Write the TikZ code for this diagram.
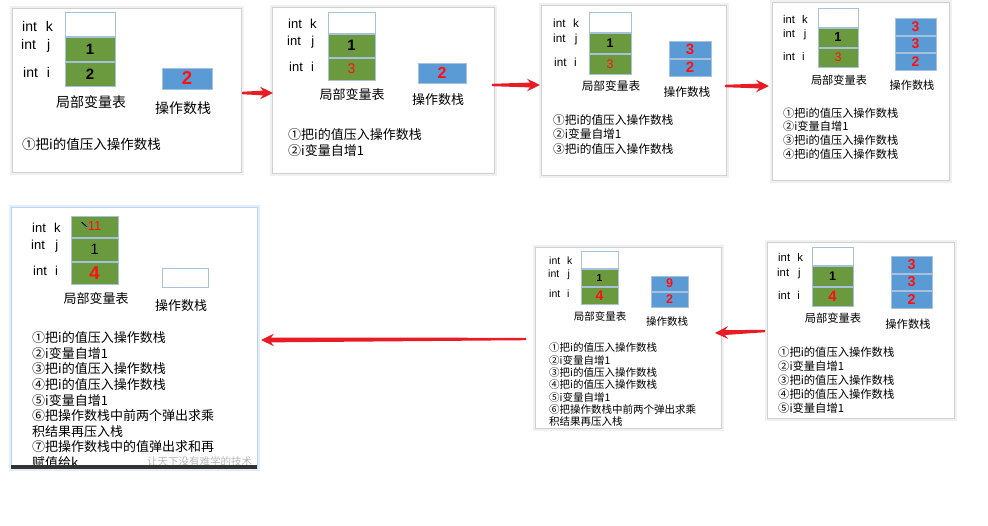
\documentclass[tikz,border=0pt]{standalone}
\usepackage{fontspec}
\setmainfont{Liberation Sans}
\newfontfamily\cjk{Noto Sans CJK SC}
\usetikzlibrary{calc}
\definecolor{gfill}{HTML}{6B9A3E}
\definecolor{cellborder}{HTML}{A7C1DD}
\definecolor{sfill}{HTML}{5B9BD5}
\definecolor{numred}{HTML}{FF1010}
\definecolor{arrowred}{HTML}{E81C25}
\definecolor{selblue}{HTML}{B9D4EF}
\newcommand\fs[1]{\fontsize{#1}{#1}\selectfont}
\newcommand\mkpanel[6]{\node[panelbox,#6,minimum width={#4-#2},minimum height={#5-#3}] (#1) at ({(#2+#4)/2},{(#3+#5)/2}) {};}
\newcommand\mkcell[7]{\node[cellbox,#6,minimum width={#4-#2},minimum height={#5-#3}] (#1) at ({(#2+#4)/2},{(#3+#5)/2}) {#7};}
\newcommand\tarrow[2]{\fill[arrowred] ($(#1)+(0,1.2)$) -- ($(#2)!10pt!(#1)+(0,2.4)$) -- ($(#2)!13pt!(#1)+(0,6.3)$) -- (#2) -- ($(#2)!13pt!(#1)+(0,-6.3)$) -- ($(#2)!10pt!(#1)+(0,-2.4)$) -- ($(#1)+(0,-1.2)$) -- cycle;}
\newcommand\rn[2]{{\fs{#1}\bfseries\color{numred}#2}}
\newcommand\rl[2]{{\fs{#1}\color{numred}#2}}
\newcommand\bn[2]{{\fs{#1}\bfseries #2}}
\newcommand\txA{①把i的值压入操作数栈}
\newcommand\txB{②i变量自增1}
\newcommand\txC{③把i的值压入操作数栈}
\newcommand\txD{④把i的值压入操作数栈}
\newcommand\txE{⑤i变量自增1}
\newcommand\txF{⑥把操作数栈中前两个弹出求乘\\积结果再压入栈}
\newcommand\txG{⑦把操作数栈中的值弹出求和再\\赋值给k}
\tikzset{
  panelbox/.style={draw=black!18,line width=0.6pt,fill=white,preaction={draw=black!6,line width=5pt},inner sep=0pt},
  selpanel/.style={draw=selblue,preaction={draw=selblue!40,line width=5pt}},
  cellbox/.style={draw=cellborder,line width=0.9pt,inner sep=0pt},
  gcell/.style={fill=gfill},
  wcell/.style={fill=white},
  scell/.style={fill=sfill},
  lab/.style={anchor=base west,inner sep=0pt},
  ttl/.style={inner sep=0pt,font=\cjk},
  steps/.style={anchor=north west,inner sep=0pt,align=left}
}
\begin{document}
\begin{tikzpicture}[x=1pt,y=-1pt]
\useasboundingbox (0,0) rectangle (988,525);
\fill[white] (0,0) rectangle (988,525);

% ---------- panel 1
\mkpanel{p1}{12}{8}{241}{172}{}
\node[lab] (p1lk) at (22,31) {\fs{14}int\hspace{0.64em}k};
\node[lab] (p1lj) at (21,49) {\fs{14}int\hspace{0.8em}j};
\node[lab] (p1li) at (23,77) {\fs{14}int\hspace{0.64em}i};
\mkcell{p1k}{65}{12}{115}{36}{wcell}{}
\mkcell{p1j}{65}{37}{115}{61}{gcell}{\bn{15}{1}}
\mkcell{p1i}{65}{62}{115}{86}{gcell}{\bn{15}{2}}
\mkcell{p1s}{162}{68}{212}{89}{scell}{\rn{18.6}{2}}
\node[ttl] (p1t1) at (91,102) {\fs{14}局部变量表};
\node[ttl] (p1t2) at (183,108) {\fs{14}操作数栈};
\node[steps,font={\cjk\fontsize{13.5}{16.5}\selectfont}] (p1st) at (22,138) {\txA};

% ---------- panel 2
\mkpanel{p2}{272}{7}{494}{173}{}
\node[lab] (p2lk) at (288,28.7) {\fs{13}int\hspace{0.64em}k};
\node[lab] (p2lj) at (287,45.7) {\fs{13}int\hspace{0.8em}j};
\node[lab] (p2li) at (289,71.7) {\fs{13}int\hspace{0.64em}i};
\mkcell{p2k}{328}{12}{375}{33}{wcell}{}
\mkcell{p2j}{328}{34}{375}{57}{gcell}{\bn{15}{1}}
\mkcell{p2i}{328}{58}{375}{80}{gcell}{\rl{14}{3}}
\mkcell{p2s}{418}{63}{466}{83}{scell}{\rn{16}{2}}
\node[ttl] (p2t1) at (352,95) {\fs{13}局部变量表};
\node[ttl] (p2t2) at (438,100) {\fs{13}操作数栈};
\node[steps,font={\cjk\fontsize{13}{16}\selectfont}] (p2st) at (288,128.5) {\txA\\\txB};

% ---------- panel 3
\mkpanel{p3}{541}{5}{726}{175}{}
\node[lab] (p3lk) at (553,27.2) {\fs{11.7}int\hspace{0.64em}k};
\node[lab] (p3lj) at (553,42.2) {\fs{11.7}int\hspace{0.8em}j};
\node[lab] (p3li) at (554,66.2) {\fs{11.7}int\hspace{0.64em}i};
\mkcell{p3k}{589}{12}{631}{32}{wcell}{}
\mkcell{p3j}{589}{33}{631}{53}{gcell}{\bn{12.5}{1}}
\mkcell{p3i}{589}{54}{631}{74}{gcell}{\rl{12.5}{3}}
\mkcell{p3s1}{669}{41}{711}{58}{scell}{\rn{15}{3}}
\mkcell{p3s2}{669}{59}{711}{76}{scell}{\rn{15}{2}}
\node[ttl] (p3t1) at (611,86) {\fs{11.7}局部变量表};
\node[ttl] (p3t2) at (687,92) {\fs{11.7}操作数栈};
\node[steps,font={\cjk\fontsize{11.7}{14.5}\selectfont}] (p3st) at (553,114.1) {\txA\\\txB\\\txC};

% ---------- panel 4
\mkpanel{p4}{772}{2}{949}{180}{}
\node[lab] (p4lk) at (783,23) {\fs{11.2}int\hspace{0.64em}k};
\node[lab] (p4lj) at (783,37) {\fs{11.2}int\hspace{0.8em}j};
\node[lab] (p4li) at (783,60) {\fs{11.2}int\hspace{0.64em}i};
\mkcell{p4k}{818}{8}{858}{27}{wcell}{}
\mkcell{p4j}{818}{28}{858}{47}{gcell}{\bn{13}{1}}
\mkcell{p4i}{818}{48}{858}{67}{gcell}{\rl{12.5}{3}}
\mkcell{p4s1}{895}{18}{936}{35}{scell}{\rn{14}{3}}
\mkcell{p4s2}{895}{36}{936}{52}{scell}{\rn{14}{3}}
\mkcell{p4s3}{895}{53}{936}{70}{scell}{\rn{14}{2}}
\node[ttl] (p4t1) at (839,80) {\fs{11.2}局部变量表};
\node[ttl] (p4t2) at (912,85) {\fs{11.2}操作数栈};
\node[steps,font={\cjk\fontsize{11.2}{13.7}\selectfont}] (p4st) at (783,107.4) {\txA\\\txB\\\txC\\\txD};

% ---------- panel 5 (final)
\mkpanel{p5}{11}{207}{257}{468}{selpanel}
\node[lab] (p5lk) at (32,232.7) {\fs{13}int\hspace{0.64em}k};
\node[lab] (p5lj) at (31,249.7) {\fs{13}int\hspace{0.8em}j};
\node[lab] (p5li) at (33,275.7) {\fs{13}int\hspace{0.64em}i};
\mkcell{p5k}{71}{216}{118}{237}{gcell}{\rl{13}{11}}
\mkcell{p5j}{71}{238}{118}{261}{gcell}{{\fs{15}1}}
\mkcell{p5i}{71}{262}{118}{284}{gcell}{\rn{18.6}{4}}
\draw[line width=1pt] ($(p5k.west)+(11,-4.5)$) -- ($(p5k.west)+(16.5,0.5)$);
\mkcell{p5s}{162}{268}{208}{287}{wcell}{}
\node[ttl] (p5t1) at (96,299) {\fs{13}局部变量表};
\node[ttl] (p5t2) at (181,306) {\fs{13}操作数栈};
\node[steps,font={\cjk\fontsize{13}{15.6}\selectfont}] (p5st) at (32,331.5) {\txA\\\txB\\\txC\\\txD\\\txE\\\txF\\\txG};
\node[anchor=west,inner sep=0pt,text=black!28,font={\cjk\fs{10.5}}] (wm) at (147,461) {让天下没有难学的技术};
\fill[black!80] (11,465) rectangle (257,468.5);

% ---------- panel 6
\mkpanel{p6}{535}{247}{721}{428}{}
\node[lab] (p6lk) at (549,264.8) {\fs{10.5}int\hspace{0.64em}k};
\node[lab] (p6lj) at (548,277.8) {\fs{10.5}int\hspace{0.8em}j};
\node[lab] (p6li) at (549,297.8) {\fs{10.5}int\hspace{0.64em}i};
\mkcell{p6k}{581}{251}{618}{268}{wcell}{}
\mkcell{p6j}{581}{269}{618}{286}{gcell}{\bn{10.2}{1}}
\mkcell{p6i}{581}{287}{618}{304}{gcell}{\rn{14}{4}}
\mkcell{p6s1}{651}{276}{688}{291}{scell}{\rn{12.5}{9}}
\mkcell{p6s2}{651}{292}{688}{307}{scell}{\rn{12.5}{2}}
\node[ttl] (p6t1) at (600,316) {\fs{10.5}局部变量表};
\node[ttl] (p6t2) at (667,322) {\fs{10.5}操作数栈};
\node[steps,font={\cjk\fontsize{10.5}{12.3}\selectfont}] (p6st) at (549,342.75) {\txA\\\txB\\\txC\\\txD\\\txE\\\txF};

% ---------- panel 7
\mkpanel{p7}{767}{242}{954}{418}{}
\node[lab] (p7lk) at (778,261) {\fs{11.3}int\hspace{0.64em}k};
\node[lab] (p7lj) at (777,276) {\fs{11.3}int\hspace{0.8em}j};
\node[lab] (p7li) at (778,299) {\fs{11.3}int\hspace{0.64em}i};
\mkcell{p7k}{812}{247}{853}{265}{wcell}{}
\mkcell{p7j}{812}{266}{853}{286}{gcell}{\bn{12.5}{1}}
\mkcell{p7i}{812}{287}{853}{306}{gcell}{\rn{15}{4}}
\mkcell{p7s1}{891}{256}{932}{273}{scell}{\rn{14.4}{3}}
\mkcell{p7s2}{891}{274}{932}{290}{scell}{\rn{14.4}{3}}
\mkcell{p7s3}{891}{291}{932}{308}{scell}{\rn{14.4}{2}}
\node[ttl] (p7t1) at (833,318) {\fs{11.3}局部变量表};
\node[ttl] (p7t2) at (908,324) {\fs{11.3}操作数栈};
\node[steps,font={\cjk\fontsize{11.3}{14}\selectfont}] (p7st) at (778,346.4) {\txA\\\txB\\\txC\\\txD\\\txE};

% ---------- arrows
\coordinate (a1s) at (242,93);  \coordinate (a1e) at (273,93);
\coordinate (a2s) at (492,85);  \coordinate (a2e) at (540,85);
\coordinate (a3s) at (725,86);  \coordinate (a3e) at (769,86);
\coordinate (a4s) at (765,331); \coordinate (a4e) at (715,333);
\coordinate (a5s) at (526,339); \coordinate (a5e) at (261,340);
\tarrow{a1s}{a1e}
\tarrow{a2s}{a2e}
\tarrow{a3s}{a3e}
\tarrow{a4s}{a4e}
\tarrow{a5s}{a5e}
\end{tikzpicture}
\end{document}
